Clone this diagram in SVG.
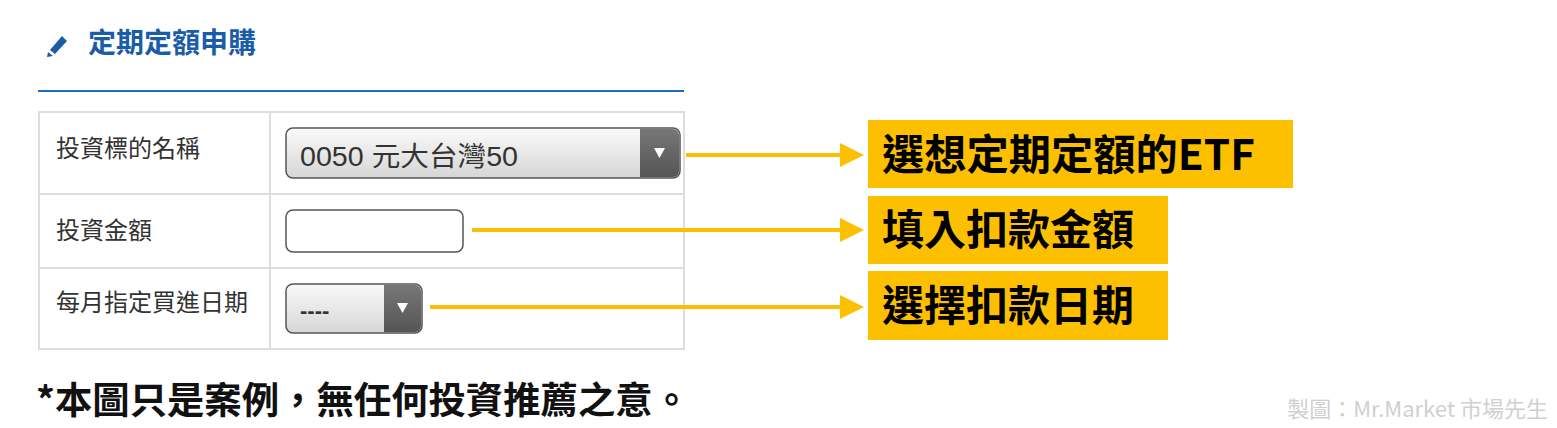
<svg xmlns="http://www.w3.org/2000/svg" width="1557" height="428" viewBox="0 0 1557 428">
<defs>
<style>
.lbl{font-family:"Noto Sans CJK TC","Liberation Sans",sans-serif;font-size:24px;fill:#333}
.call{font-family:"Noto Sans CJK TC","Liberation Sans",sans-serif;font-size:42px;font-weight:bold;fill:#000}
.box{fill:#FDC000}
.conn{stroke:#FDC000;stroke-width:4;fill:none}
.grid{stroke:#ddd;stroke-width:2;fill:none}
</style>
<linearGradient id="g" x1="0" y1="0" x2="0" y2="1"><stop offset="0" stop-color="#fafafa"/><stop offset="1" stop-color="#d6d6d6"/></linearGradient>
<linearGradient id="d" x1="0" y1="0" x2="0" y2="1"><stop offset="0" stop-color="#777"/><stop offset="1" stop-color="#555"/></linearGradient>
<marker id="ah" markerWidth="6" markerHeight="6" refX="5" refY="3" orient="auto" markerUnits="strokeWidth"><path d="M0,0 L6,3 L0,6 Z" fill="#FDC000"/></marker>
</defs>
<rect width="1557" height="428" fill="#fff"/>
<g id="title">
<path d="M50,50 L62,36 L67,41 L55,54 Z M48,52 L53,56 L47,57 Z" fill="#1a5ca8"/>
<text x="88" y="53" font-family="Noto Sans CJK TC,sans-serif" font-size="28" font-weight="bold" fill="#1a5ca8">定期定額申購</text>
<line x1="38" y1="91" x2="684" y2="91" stroke="#1a6fb8" stroke-width="2"/>
</g>
<g id="table">
<rect x="39" y="112" width="645" height="237" class="grid"/>
<line x1="270" y1="112" x2="270" y2="349" class="grid"/>
<line x1="39" y1="194" x2="684" y2="194" class="grid"/>
<line x1="39" y1="268" x2="684" y2="268" class="grid"/>
<text x="56" y="157" class="lbl">投資標的名稱</text>
<text x="56" y="239" class="lbl">投資金額</text>
<text x="56" y="311" class="lbl">每月指定買進日期</text>
</g>
<g id="select1">
<rect x="286" y="128" width="394" height="50" rx="7" fill="url(#g)" stroke="#555" stroke-width="1.5"/>
<path d="M640,129 H673 a6,6 0 0 1 6,6 V171 a6,6 0 0 1 -6,6 H640 Z" fill="url(#d)"/>
<path d="M654,148 L665,148 L659.5,158 Z" fill="#fff"/>
<text x="300" y="166" font-family="Liberation Sans,Noto Sans CJK TC,sans-serif" font-size="27" fill="#333" textLength="218" lengthAdjust="spacingAndGlyphs">0050 元大台灣50</text>
</g>
<g id="input1"><rect x="286" y="210" width="177" height="42" rx="7" fill="#fff" stroke="#555" stroke-width="1.5"/></g>
<g id="select2">
<rect x="286" y="284" width="136" height="49" rx="7" fill="url(#g)" stroke="#555" stroke-width="1.5"/>
<path d="M384,285 H415 a6,6 0 0 1 6,6 V326 a6,6 0 0 1 -6,6 H384 Z" fill="url(#d)"/>
<path d="M397,303 L408,303 L402.5,313 Z" fill="#fff"/>
<text x="300" y="318" font-family="Liberation Sans,sans-serif" font-size="22" font-weight="bold" fill="#333">----</text>
</g>
<g id="connectors">
<line x1="686" y1="155" x2="860" y2="155" class="conn" marker-end="url(#ah)"/>
<line x1="472" y1="230" x2="860" y2="230" class="conn" marker-end="url(#ah)"/>
<line x1="430" y1="307" x2="860" y2="307" class="conn" marker-end="url(#ah)"/>
</g>
<g id="c1"><rect x="868" y="120" width="425" height="68" class="box"/><text x="882" y="170" class="call" textLength="373" lengthAdjust="spacingAndGlyphs">選想定期定額的ETF</text></g>
<g id="c2"><rect x="868" y="196" width="300" height="68" class="box"/><text x="882" y="245" class="call">填入扣款金額</text></g>
<g id="c3"><rect x="868" y="271" width="300" height="69" class="box"/><text x="882" y="321" class="call">選擇扣款日期</text></g>
<text x="36" y="414" font-family="Noto Sans CJK TC,sans-serif" font-size="37" font-weight="bold" fill="#111" textLength="654" lengthAdjust="spacingAndGlyphs">*本圖只是案例，無任何投資推薦之意。</text>
<text x="1548" y="417" text-anchor="end" font-family="Noto Sans CJK TC,sans-serif" font-size="22" fill="#d0d0d0">製圖：Mr.Market 市場先生</text>
</svg>
